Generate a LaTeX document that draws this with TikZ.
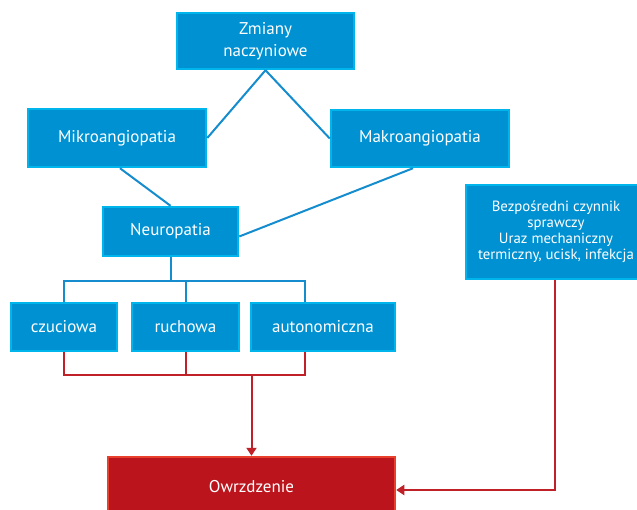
\documentclass[tikz,border=0pt]{standalone}
\usepackage{fontspec}
\setmainfont{PT Sans}
\usetikzlibrary{arrows.meta}

\definecolor{boxblue}{RGB}{0,145,210}
\definecolor{edgeblue}{RGB}{0,180,236}
\definecolor{lineblue}{RGB}{20,140,205}
\definecolor{boxred}{RGB}{187,20,28}
\definecolor{edgered}{RGB}{232,64,44}
\definecolor{linered}{RGB}{192,32,40}

\begin{document}
\begin{tikzpicture}[x=1pt,y=-1pt]
  \tikzset{box/.style={draw=edgeblue, fill=boxblue, line width=2.5pt,
      text=white, align=center, inner sep=0,
      font=\fontsize{17}{22}\selectfont},
    redbox/.style={box, draw=edgered, fill=boxred},
    bline/.style={lineblue, line width=2pt},
    rline/.style={linered, line width=2pt}}
  \useasboundingbox (0,0) rectangle (637,510);
  \clip (0,0) rectangle (637,510);
  \node[box, minimum width=177, minimum height=56] (zm) at (265.5,41) {Zmiany\\naczyniowe};
  \node[box, minimum width=178, minimum height=58] (mikro) at (117,138) {Mikroangiopatia};
  \node[box, minimum width=178, minimum height=57] (makro) at (420,138.5) {Makroangiopatia};
  \node[box, minimum width=135, minimum height=49] (neuro) at (170.5,231.5) {Neuropatia};
  \node[box, minimum width=106, minimum height=48] (czuc) at (64,327) {czuciowa};
  \node[box, minimum width=107, minimum height=48] (ruch) at (185.5,327) {ruchowa};
  \node[box, minimum width=144, minimum height=48] (auto) at (323,327) {autonomiczna};
  \node[box, minimum width=180, minimum height=94,
    font=\fontsize{14.8}{16}\selectfont] (bezp) at (556,232)
    {Bezpośredni czynnik\\sprawczy\\Uraz mechaniczny\\termiczny, ucisk, infekcja};
  \node[redbox, minimum width=287, minimum height=60] (owrz) at (251.5,487) {Owrzdzenie};
  % blue links
  \draw[bline] (zm.south) -- (mikro.east);
  \draw[bline] (zm.south) -- (makro.west);
  \draw[bline] ([xshift=3]mikro.south) -- (neuro.north);
  \draw[bline] ([xshift=-7]makro.south) -- ([yshift=-5]neuro.east);
  \coordinate (bj) at (neuro.south |- 0,281);
  \draw[bline] (neuro.south) -- (bj);
  \draw[bline] (czuc.north) |- (bj) -| ([xshift=-18]auto.north);
  \draw[bline] (ruch.north) -- (ruch.north |- bj);
  % red links
  \coordinate (rj) at (owrz.north |- 0,375);
  \draw[rline] (czuc.south) |- (rj) -| ([xshift=-18]auto.south);
  \draw[rline] (ruch.south) -- (ruch.south |- rj);
  \draw[rline, -{Triangle[width=10pt,length=8pt]}] (rj) -- (owrz.north);
  \draw[rline, -{Triangle[width=10pt,length=8pt]}] ([xshift=-1]bezp.south) |- ([yshift=-3]owrz.east);
\end{tikzpicture}
\end{document}
